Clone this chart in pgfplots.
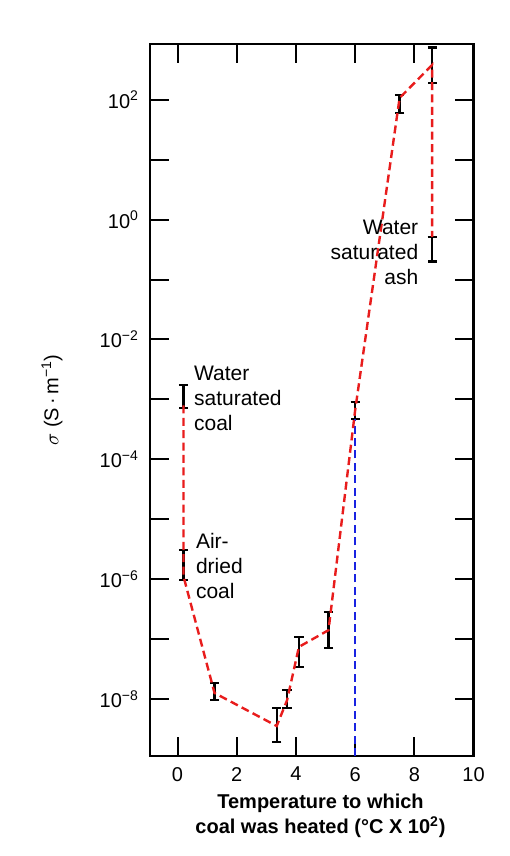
\documentclass[border=0pt]{standalone}
\usepackage{pgfplots}
\usepackage{pgfplotstable}
\pgfplotsset{compat=1.18}
\usepackage{fontspec}
\setmainfont{Liberation Sans}

\definecolor{linered}{RGB}{232,28,28}
\definecolor{lineblue}{RGB}{25,35,225}

% measured points: centre and ends of each error bar
\pgfplotstableread{
x    y        lo       hi
0.2  1.15e-3  7.24e-4  1.74e-3
0.2  1.74e-6  9.77e-7  3.09e-6
1.25 1.32e-8  9.55e-9  1.86e-8
3.35 3.55e-9  1.91e-9  7.08e-9
3.7  1.0e-8   7.08e-9  1.41e-8
4.1  6.03e-8  3.39e-8  1.07e-7
5.1  1.41e-7  7.08e-8  2.82e-7
6.0  6.61e-4  4.68e-4  9.12e-4
7.5  85.1     60.3     120
8.6  380      191      741
8.6  0.324    0.200    0.513
}\bars

\begin{document}
\begin{tikzpicture}
\useasboundingbox (-75pt,-50pt) rectangle (179.5pt,378pt);
\begin{axis}[
    scale only axis,
    width=161.8pt, height=356pt,
    xmin=-0.93, xmax=10,
    ymode=log, ymin=1.12e-9, ymax=851,
    xtick={0,2,...,10},
    ytick={1e-8,1e-6,1e-4,1e-2,1,1e2},
    yticklabels={10\textsuperscript{−8},10\textsuperscript{−6},10\textsuperscript{−4},10\textsuperscript{−2},10\textsuperscript{0},10\textsuperscript{2}},
    minor ytick={1e-7,1e-5,1e-3,1e-1,10},
    tick align=inside,
    major tick length=9.5pt, minor tick length=9.5pt,
    tick style={black, line width=1pt},
    axis line style={line width=1.4pt},
    /pgf/number format/assume math mode=true,
    ticklabel style={font=\fontsize{10}{12}\selectfont},
    xticklabel style={yshift=-2pt},
    yticklabel style={xshift=-2pt},
    xlabel={Temperature to which\\coal was heated (°C X 10\textsuperscript{2})},
    xlabel style={align=center, font=\bfseries\fontsize{10}{12.5}\selectfont,
        at={(rel axis cs:0.527,0)}, anchor=north, inner sep=0pt, yshift=-19pt},
    ylabel={$\sigma$ (S\,·\,m\textsuperscript{−1})},
    ylabel style={font=\fontsize{10}{12}\selectfont,
        at={(rel axis cs:0,0.5)}, anchor=center, yshift=49pt},
]
% error bars
\addplot[draw=none, no markers,
    error bars/.cd, y dir=both, y explicit,
    error bar style={draw=black, solid, line width=1.1pt},
    error mark options={draw=black, solid, rotate=90, mark size=2.3pt, line width=1.1pt}]
    table[x=x, y=y,
          y error plus expr=\thisrow{hi}-\thisrow{y},
          y error minus expr=\thisrow{y}-\thisrow{lo}] {\bars};

% blue line up to the 600 C point
\addplot[lineblue, line width=1.2pt, dash pattern=on 4pt off 2.2pt] coordinates {
    (6.0,1.12e-9) (6.0,4.68e-4)};

% red trend line
\addplot[linered, line width=1.2pt, dash pattern=on 4pt off 2.2pt] coordinates {
    (0.2,7.94e-4) (0.2,1.12e-6) (1.25,1.26e-8) (3.35,3.55e-9) (3.7,9.55e-9)
    (4.1,7.41e-8) (5.1,1.41e-7) (6.0,6.61e-4) (7.5,107) (8.6,380) (8.6,0.513)};

\node[anchor=north west, align=left, inner sep=0pt,
      font=\fontsize{10.5}{12.5}\selectfont] at (rel axis cs:0.135,0.548)
      {Water\\saturated\\coal};
\node[anchor=north west, align=left, inner sep=0pt,
      font=\fontsize{10.5}{12.5}\selectfont] at (rel axis cs:0.141,0.313)
      {Air-\\dried\\coal};
\node[anchor=north east, align=right, inner sep=0pt,
      font=\fontsize{10.5}{12.5}\selectfont] at (rel axis cs:0.830,0.753)
      {Water\\saturated\\ash};
\end{axis}
\end{tikzpicture}
\end{document}
